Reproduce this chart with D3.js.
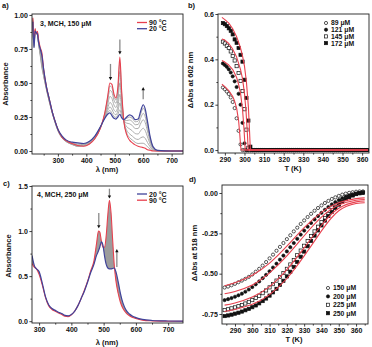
<!DOCTYPE html>
<html>
<head>
<meta charset="utf-8">
<script src="https://cdn.jsdelivr.net/npm/d3@7"></script>
<style>
body { margin: 0; background: #fff; }
svg text { font-family: "Liberation Sans", Arial, sans-serif; font-weight: bold; fill: #111; }
</style>
</head>
<body>
<script>
// ---------- panel a : spectra of 3, MCH, 150 uM ----------
var lambdaA = [212,216,220,224,228,232,238,244,250,260,270,280,290,300,315,330,350,370,390,410,430,450,465,475,483,490,497,504,511,518,524,532,542,552,562,572,582,592,600,607,615,625,635,650,700,740];
var absA90 = [0.98,0.80,0.90,0.86,0.88,0.82,0.76,0.72,0.60,0.47,0.38,0.29,0.22,0.16,0.10,0.075,0.055,0.04,0.035,0.05,0.09,0.17,0.28,0.40,0.50,0.49,0.42,0.39,0.47,0.69,0.45,0.22,0.12,0.08,0.06,0.045,0.035,0.03,0.025,0.02,0.01,0.005,0,0,0,0];
var absA20 = [0.95,0.76,0.88,0.87,0.86,0.80,0.75,0.70,0.60,0.47,0.38,0.29,0.22,0.16,0.11,0.08,0.065,0.06,0.055,0.07,0.11,0.18,0.24,0.27,0.28,0.26,0.24,0.235,0.25,0.27,0.245,0.23,0.25,0.265,0.255,0.23,0.235,0.30,0.34,0.31,0.22,0.10,0.03,0.005,0,0];
var absAGray1 = [0.97,0.79,0.89,0.86,0.87,0.81,0.74,0.68,0.58,0.46,0.37,0.29,0.22,0.16,0.10,0.072,0.052,0.038,0.037,0.052,0.092,0.171,0.276,0.387,0.478,0.467,0.402,0.375,0.448,0.648,0.43,0.221,0.133,0.099,0.080,0.064,0.055,0.057,0.057,0.049,0.031,0.015,0.003,0,0,0];
var absAGray2 = [0.96,0.78,0.89,0.86,0.87,0.80,0.72,0.64,0.56,0.46,0.37,0.285,0.215,0.155,0.10,0.07,0.05,0.036,0.04,0.055,0.095,0.173,0.27,0.368,0.445,0.433,0.375,0.351,0.415,0.585,0.399,0.223,0.153,0.126,0.109,0.091,0.085,0.098,0.104,0.093,0.063,0.029,0.008,0.001,0,0];
var absAGray3 = [0.96,0.78,0.88,0.86,0.86,0.79,0.71,0.62,0.55,0.45,0.36,0.28,0.21,0.15,0.095,0.068,0.048,0.035,0.044,0.059,0.099,0.175,0.262,0.342,0.401,0.387,0.339,0.32,0.371,0.501,0.358,0.225,0.179,0.163,0.148,0.128,0.125,0.152,0.167,0.151,0.105,0.048,0.014,0.002,0,0];
var absAGray4 = [0.95,0.77,0.88,0.86,0.86,0.79,0.70,0.61,0.55,0.45,0.36,0.28,0.21,0.15,0.095,0.068,0.048,0.036,0.048,0.063,0.103,0.177,0.254,0.316,0.357,0.341,0.303,0.289,0.327,0.417,0.317,0.227,0.205,0.200,0.187,0.165,0.165,0.206,0.23,0.209,0.147,0.067,0.02,0.003,0,0];
var absAGray5 = [0.95,0.77,0.88,0.87,0.86,0.79,0.72,0.64,0.57,0.46,0.37,0.285,0.215,0.155,0.10,0.072,0.055,0.045,0.051,0.066,0.106,0.178,0.248,0.296,0.324,0.306,0.276,0.266,0.294,0.354,0.286,0.228,0.224,0.228,0.216,0.193,0.195,0.246,0.277,0.252,0.178,0.081,0.024,0.004,0,0];
var absAGray6 = [0.95,0.76,0.88,0.87,0.86,0.80,0.74,0.68,0.59,0.47,0.38,0.29,0.22,0.16,0.105,0.077,0.06,0.052,0.053,0.068,0.108,0.179,0.243,0.28,0.298,0.278,0.254,0.247,0.268,0.303,0.261,0.229,0.24,0.25,0.239,0.215,0.219,0.278,0.315,0.287,0.203,0.092,0.028,0.005,0,0];
// arrows: wavelength, from, to
var arrowsA = [[485, 0.64, 0.52], [518, 0.82, 0.71], [600, 0.38, 0.47]];

// ---------- panel b : dAbs at 602 nm, compound 3 ----------
var tempsB = [289,290,291,292,293,294,295,296,297,298,299,300,301,302,303,304,305,306,307,308,309,310,311,312,313,314,315,316,317,318,319,320,321,322,323,324,325,326,327,328,329,330,331,332,333,334,335,336,337,338,339,340,341,342,343,344,345,346,347,348,349,350,351,352,353,354,355,356,357,358,359,360,361,362,363];
var dAbsB89 = [0.276,0.268,0.258,0.247,0.232,0.212,0.185,0.14,0.085,0.025,
  0,0,0,0,0,0,0,0,0,0, 0,0,0,0,0,0,0,0,0,0, 0,0,0,0,0,0,0,0,0,0, 0,0,0,0,0,0,0,0,0,0, 0,0,0,0,0,0,0,0,0,0, 0,0,0,0,0,0,0,0,0,0, 0,0,0,0,0];
var dAbsB121 = [0.382,0.375,0.367,0.356,0.342,0.325,0.303,0.278,0.248,0.2,0.12,0.03,
  0,0,0,0,0,0,0,0,0,0, 0,0,0,0,0,0,0,0,0,0, 0,0,0,0,0,0,0,0,0,0, 0,0,0,0,0,0,0,0,0,0, 0,0,0,0,0,0,0,0,0,0, 0,0,0,0,0,0,0,0,0,0, 0,0,0];
var dAbsB145 = [0.478,0.47,0.46,0.45,0.435,0.415,0.395,0.37,0.34,0.305,0.26,0.18,0.09,0.01,
  0,0,0,0,0,0,0,0,0,0, 0,0,0,0,0,0,0,0,0,0, 0,0,0,0,0,0,0,0,0,0, 0,0,0,0,0,0,0,0,0,0, 0,0,0,0,0,0,0,0,0,0, 0,0,0,0,0,0,0,0,0,0, 0];
var dAbsB172 = [0.56,0.555,0.547,0.537,0.526,0.51,0.488,0.473,0.45,0.42,0.39,0.31,0.23,0.13,0.015,
  0,0,0,0,0,0,0,0,0,0, 0,0,0,0,0,0,0,0,0,0, 0,0,0,0,0,0,0,0,0,0, 0,0,0,0,0,0,0,0,0,0, 0,0,0,0,0,0,0,0,0,0, 0,0,0,0,0,0,0,0,0,0];
var fitB89T = [288.5,290,292,294,295,296,297,297.6,298,298.3,363];
var fitB89V = [0.29,0.28,0.262,0.236,0.215,0.185,0.13,0.07,0.02,0,0];
var fitB121T = [288.5,290,292,294,296,297,298,299,299.7,300.2,300.4,363];
var fitB121V = [0.395,0.388,0.375,0.355,0.32,0.29,0.25,0.18,0.10,0.03,0,0];
var fitB145T = [288.5,290,292,294,296,298,299,300,300.8,301.5,301.9,363];
var fitB145V = [0.49,0.485,0.47,0.445,0.41,0.355,0.315,0.25,0.17,0.07,0,0];
var fitB172T = [288.5,290,292,294,296,298,299,300,301,302,302.6,303,363];
var fitB172V = [0.585,0.575,0.56,0.535,0.5,0.45,0.415,0.37,0.3,0.19,0.08,0,0];
var concB = ["89 \u03bcM", "121 \u03bcM", "145 \u03bcM", "172 \u03bcM"];

// ---------- panel c : spectra of 4, MCH, 250 uM ----------
var lambdaC = [278,285,292,300,310,320,330,340,350,360,370,380,390,400,410,420,430,440,450,460,470,478,484,488,493,498,503,508,513,518,523,528,533,538,545,552,560,570,580,590,600,620,650,700,746];
var absC90 = [0.64,0.60,0.58,0.52,0.40,0.26,0.17,0.13,0.11,0.09,0.075,0.055,0.05,0.07,0.11,0.17,0.25,0.34,0.44,0.56,0.67,0.86,1.0,0.99,0.89,0.82,0.82,0.95,1.18,1.34,1.2,0.9,0.62,0.45,0.31,0.21,0.14,0.09,0.06,0.04,0.03,0.012,0.004,0,0];
var absC20 = [0.73,0.62,0.58,0.55,0.42,0.27,0.18,0.14,0.12,0.10,0.085,0.065,0.06,0.075,0.11,0.17,0.25,0.33,0.43,0.54,0.63,0.73,0.78,0.82,0.88,0.84,0.72,0.63,0.59,0.58,0.58,0.585,0.59,0.55,0.44,0.31,0.2,0.12,0.08,0.055,0.04,0.02,0.008,0.002,0];
var arrowsC = [[485, 1.2, 1.03], [518, 1.47, 1.36], [541, 0.6, 0.8]];

// ---------- panel d : dAbs at 518 nm, compound 4 ----------
var tempsD = [284,286,288,290,292,294,296,298,300,302,304,306,308,310,312,314,316,318,320,322,324,326,328,330,332,334,336,338,340,342,344,346,348,350,352,354,356,358,360,362,364];
var dAbsD150 = [-0.586,-0.58,-0.572,-0.563,-0.553,-0.543,-0.532,-0.52,-0.505,-0.488,-0.47,-0.45,-0.428,-0.405,-0.382,-0.358,-0.334,-0.31,-0.286,-0.262,-0.238,-0.215,-0.192,-0.17,-0.149,-0.129,-0.11,-0.093,-0.077,-0.062,-0.049,-0.037,-0.027,-0.018,-0.01,-0.004,0.001,0.005,0.008,0.01,0.01];
var dAbsD200 = [-0.664,-0.658,-0.651,-0.643,-0.634,-0.624,-0.612,-0.598,-0.583,-0.566,-0.548,-0.528,-0.507,-0.485,-0.462,-0.438,-0.413,-0.388,-0.362,-0.336,-0.31,-0.284,-0.258,-0.233,-0.209,-0.186,-0.164,-0.143,-0.123,-0.104,-0.087,-0.071,-0.057,-0.044,-0.033,-0.023,-0.015,-0.008,-0.003,0,0.002];
var dAbsD225 = [-0.726,-0.721,-0.715,-0.709,-0.702,-0.694,-0.685,-0.675,-0.664,-0.651,-0.637,-0.621,-0.604,-0.585,-0.565,-0.543,-0.52,-0.496,-0.47,-0.443,-0.415,-0.386,-0.357,-0.327,-0.297,-0.267,-0.238,-0.209,-0.181,-0.155,-0.13,-0.107,-0.086,-0.067,-0.05,-0.036,-0.024,-0.014,-0.006,0,0.004];
var dAbsD250 = [-0.763,-0.759,-0.754,-0.748,-0.742,-0.735,-0.727,-0.718,-0.708,-0.697,-0.684,-0.67,-0.654,-0.636,-0.616,-0.594,-0.57,-0.544,-0.517,-0.488,-0.458,-0.427,-0.395,-0.363,-0.33,-0.297,-0.264,-0.232,-0.201,-0.171,-0.143,-0.117,-0.093,-0.072,-0.054,-0.038,-0.025,-0.015,-0.007,-0.002,0.002];
var fitDT = [284,290,300,310,320,330,340,350,360,365];
var fitD150 = [-0.575,-0.556,-0.51,-0.435,-0.33,-0.215,-0.12,-0.06,-0.035,-0.03];
var fitD200 = [-0.625,-0.61,-0.57,-0.495,-0.39,-0.265,-0.15,-0.075,-0.045,-0.04];
var fitD225 = [-0.695,-0.682,-0.645,-0.58,-0.475,-0.34,-0.2,-0.095,-0.055,-0.05];
var fitD250 = [-0.735,-0.722,-0.69,-0.63,-0.53,-0.39,-0.235,-0.11,-0.065,-0.06];
var concD = ["150 \u03bcM", "200 \u03bcM", "225 \u03bcM", "250 \u03bcM"];

var width = 372, height = 347;
var RED = "#e8404e", BLUE = "#40439a", GRAY = "#a3a3a3";
var markers = [{shape: "circle", fill: false}, {shape: "circle", fill: true},
               {shape: "square", fill: false}, {shape: "square", fill: true}];

var svg = d3.select("body").append("svg")
    .attr("width", width)
    .attr("height", height);

// build one framed panel with major + minor ticks
function makePanel(p) {
  var x = d3.scaleLinear().domain(p.xDomain).range([p.left, p.right]);
  var y = d3.scaleLinear().domain(p.yDomain).range([p.bottom, p.top]);
  var g = svg.append("g");

  g.append("g").attr("transform", "translate(0," + p.bottom + ")")
    .call(d3.axisBottom(x).tickValues(p.xMinor).tickSize(1.6).tickFormat(""));
  g.append("g").attr("transform", "translate(0," + p.bottom + ")")
    .call(d3.axisBottom(x).tickValues(p.xTicks).tickSize(2.6).tickPadding(1).tickFormat(d3.format("d")));
  g.append("g").attr("transform", "translate(" + p.left + ",0)")
    .call(d3.axisLeft(y).tickValues(p.yMinor).tickSize(1.6).tickFormat(""));
  g.append("g").attr("transform", "translate(" + p.left + ",0)")
    .call(d3.axisLeft(y).tickValues(p.yTicks).tickSize(2.6).tickPadding(1.5).tickFormat(p.yFormat));
  g.selectAll(".domain").remove();
  g.selectAll(".tick line").attr("stroke", "#111").attr("stroke-width", 0.8);
  g.selectAll(".tick text").attr("font-size", 7);

  svg.append("clipPath").attr("id", "clip-" + p.id)
    .append("rect").attr("x", p.left).attr("y", p.top)
    .attr("width", p.right - p.left).attr("height", p.bottom - p.top);
  var plot = svg.append("g").attr("clip-path", "url(#clip-" + p.id + ")");

  svg.append("rect").attr("x", p.left).attr("y", p.top)
    .attr("width", p.right - p.left).attr("height", p.bottom - p.top)
    .attr("fill", "none").attr("stroke", "#222").attr("stroke-width", 0.9);

  svg.append("text").attr("x", p.letter[0]).attr("y", p.letter[1])
    .attr("font-size", 7.5).text(p.id + ")");
  svg.append("text").attr("x", p.xTitle[0]).attr("y", p.xTitle[1])
    .attr("text-anchor", "middle").attr("font-size", 7.5).text(p.xLabel);
  svg.append("text")
    .attr("transform", "translate(" + p.yTitle[0] + "," + p.yTitle[1] + ") rotate(-90)")
    .attr("text-anchor", "middle").attr("font-size", 7.5).text(p.yLabel);
  return {x: x, y: y, plot: plot};
}

function drawLine(panel, xs, ys, color, w, curve) {
  var line = d3.line()
    .x(function(d, i) { return panel.x(xs[i]); })
    .y(function(d) { return panel.y(d); })
    .curve(curve || d3.curveMonotoneX);
  panel.plot.append("path").datum(ys)
    .attr("d", line).attr("fill", "none")
    .attr("stroke", color).attr("stroke-width", w).attr("stroke-linejoin", "round");
}

function drawArrow(panel, a) {
  var x0 = panel.x(a[0]), y0 = panel.y(a[1]), y1 = panel.y(a[2]);
  var dir = y1 > y0 ? 1 : -1;
  panel.plot.append("line").attr("x1", x0).attr("x2", x0)
    .attr("y1", y0).attr("y2", y1 - dir * 2.5)
    .attr("stroke", "#8a8a8a").attr("stroke-width", 1.3);
  panel.plot.append("path")
    .attr("d", "M" + (x0 - 1.7) + "," + (y1 - dir * 3.2) + "L" + (x0 + 1.7) + "," + (y1 - dir * 3.2) + "L" + x0 + "," + y1 + "Z")
    .attr("fill", "#111");
}

function drawMarker(g, m, cx, cy) {
  var el;
  if (m.shape === "circle") {
    el = g.append("circle").attr("cx", cx).attr("cy", cy).attr("r", 1.6);
  } else {
    el = g.append("rect").attr("x", cx - 1.6).attr("y", cy - 1.6).attr("width", 3.2).attr("height", 3.2);
  }
  el.attr("fill", m.fill ? "#111" : "#fff").attr("stroke", "#111").attr("stroke-width", 0.7);
}

function drawPoints(panel, xs, ys, m) {
  ys.forEach(function(v, i) {
    if (i < xs.length) drawMarker(panel.plot, m, panel.x(xs[i]), panel.y(v));
  });
}

function lineLegend(entries, x, y0, dy) {
  entries.forEach(function(e, i) {
    var yy = y0 + i * dy;
    svg.append("line").attr("x1", x).attr("x2", x + 10).attr("y1", yy).attr("y2", yy)
      .attr("stroke", e[1]).attr("stroke-width", 1.3);
    svg.append("text").attr("x", x + 12).attr("y", yy + 2.5).attr("font-size", 7).text(e[0]);
  });
}

function markerLegend(labels, x, y0, dy) {
  labels.forEach(function(l, i) {
    var yy = y0 + i * dy;
    drawMarker(svg, markers[i], x, yy);
    svg.append("text").attr("x", x + 5).attr("y", yy + 2.4).attr("font-size", 6.8).text(l);
  });
}

var f2 = function(d) { return d.toFixed(2); };
var f1 = function(d) { return d.toFixed(1); };

// ---- panel a
var pa = makePanel({id: "a", left: 32, right: 183, top: 14, bottom: 154,
  xDomain: [209, 740], yDomain: [-0.022, 1.007],
  xTicks: [300, 400, 500, 600, 700], xMinor: [250, 350, 450, 550, 650],
  yTicks: [0, 0.25, 0.5, 0.75, 1.0], yMinor: [0.125, 0.375, 0.625, 0.875], yFormat: f2,
  letter: [2, 8], xTitle: [107, 172], xLabel: "\u03bb (nm)", yTitle: [8, 84], yLabel: "Absorbance"});
[absAGray1, absAGray2, absAGray3, absAGray4, absAGray5, absAGray6].forEach(function(s) {
  drawLine(pa, lambdaA, s, GRAY, 0.9);
});
drawLine(pa, lambdaA, absA90, RED, 1.1);
drawLine(pa, lambdaA, absA20, BLUE, 1.2);
arrowsA.forEach(function(a) { drawArrow(pa, a); });
svg.append("text").attr("x", 40).attr("y", 26).attr("font-size", 7).text("3, MCH, 150 \u03bcM");
lineLegend([["90 \u00b0C", RED], ["20 \u00b0C", BLUE]], 137, 22.5, 6.2);

// ---- panel b
var pb = makePanel({id: "b", left: 218, right: 369, top: 14, bottom: 153,
  xDomain: [286.5, 363.5], yDomain: [-0.013, 0.6],
  xTicks: [290, 300, 310, 320, 330, 340, 350, 360], xMinor: [295, 305, 315, 325, 335, 345, 355],
  yTicks: [0, 0.2, 0.4, 0.6], yMinor: [0.1, 0.3, 0.5], yFormat: f1,
  letter: [188, 8], xTitle: [293, 171], xLabel: "T (K)", yTitle: [193, 80], yLabel: "\u0394Abs at 602 nm"});
[dAbsB89, dAbsB121, dAbsB145, dAbsB172].forEach(function(s, i) {
  drawPoints(pb, tempsB, s, markers[i]);
});
drawLine(pb, fitB89T, fitB89V, RED, 1.1, d3.curveLinear);
drawLine(pb, fitB121T, fitB121V, RED, 1.1, d3.curveLinear);
drawLine(pb, fitB145T, fitB145V, RED, 1.1, d3.curveLinear);
drawLine(pb, fitB172T, fitB172V, RED, 1.1, d3.curveLinear);
markerLegend(concB, 326, 23, 6.7);

// ---- panel c
var pc = makePanel({id: "c", left: 32, right: 183, top: 186, bottom: 323,
  xDomain: [278, 746], yDomain: [-0.02, 1.5],
  xTicks: [300, 400, 500, 600, 700], xMinor: [350, 450, 550, 650],
  yTicks: [0, 0.5, 1.0, 1.5], yMinor: [0.25, 0.75, 1.25], yFormat: f1,
  letter: [3, 186], xTitle: [107, 345], xLabel: "\u03bb (nm)", yTitle: [11, 256], yLabel: "Absorbance"});
pc.plot.append("path").datum(absC90)
  .attr("d", d3.area()
    .x(function(d, i) { return pc.x(lambdaC[i]); })
    .y0(function(d, i) { return pc.y(absC20[i]); })
    .y1(function(d) { return pc.y(d); })
    .curve(d3.curveMonotoneX))
  .attr("fill", "#9c9c9c").attr("stroke", "none");
drawLine(pc, lambdaC, absC90, RED, 1.1);
drawLine(pc, lambdaC, absC20, BLUE, 1.2);
arrowsC.forEach(function(a) { drawArrow(pc, a); });
svg.append("text").attr("x", 37).attr("y", 197).attr("font-size", 7).text("4, MCH, 250 \u03bcM");
lineLegend([["20 \u00b0C", BLUE], ["90 \u00b0C", RED]], 137, 194, 6.2);

// ---- panel d
var pd = makePanel({id: "d", left: 222, right: 368, top: 185, bottom: 324,
  xDomain: [282.5, 366.9], yDomain: [-0.812, 0.0496],
  xTicks: [290, 300, 310, 320, 330, 340, 350, 360], xMinor: [285, 295, 305, 315, 325, 335, 345, 355, 365],
  yTicks: [0, -0.25, -0.5, -0.75], yMinor: [-0.125, -0.375, -0.625], yFormat: f2,
  letter: [189, 182], xTitle: [294, 342], xLabel: "T (K)", yTitle: [197, 253], yLabel: "\u0394Abs at 518 nm"});
[dAbsD150, dAbsD200, dAbsD225, dAbsD250].forEach(function(s, i) {
  drawPoints(pd, tempsD, s, markers[i]);
});
[fitD150, fitD200, fitD225, fitD250].forEach(function(s) {
  drawLine(pd, fitDT, s, RED, 1.1, d3.curveNatural);
});
markerLegend(concD, 328, 288, 8.4);
</script>
</body>
</html>
